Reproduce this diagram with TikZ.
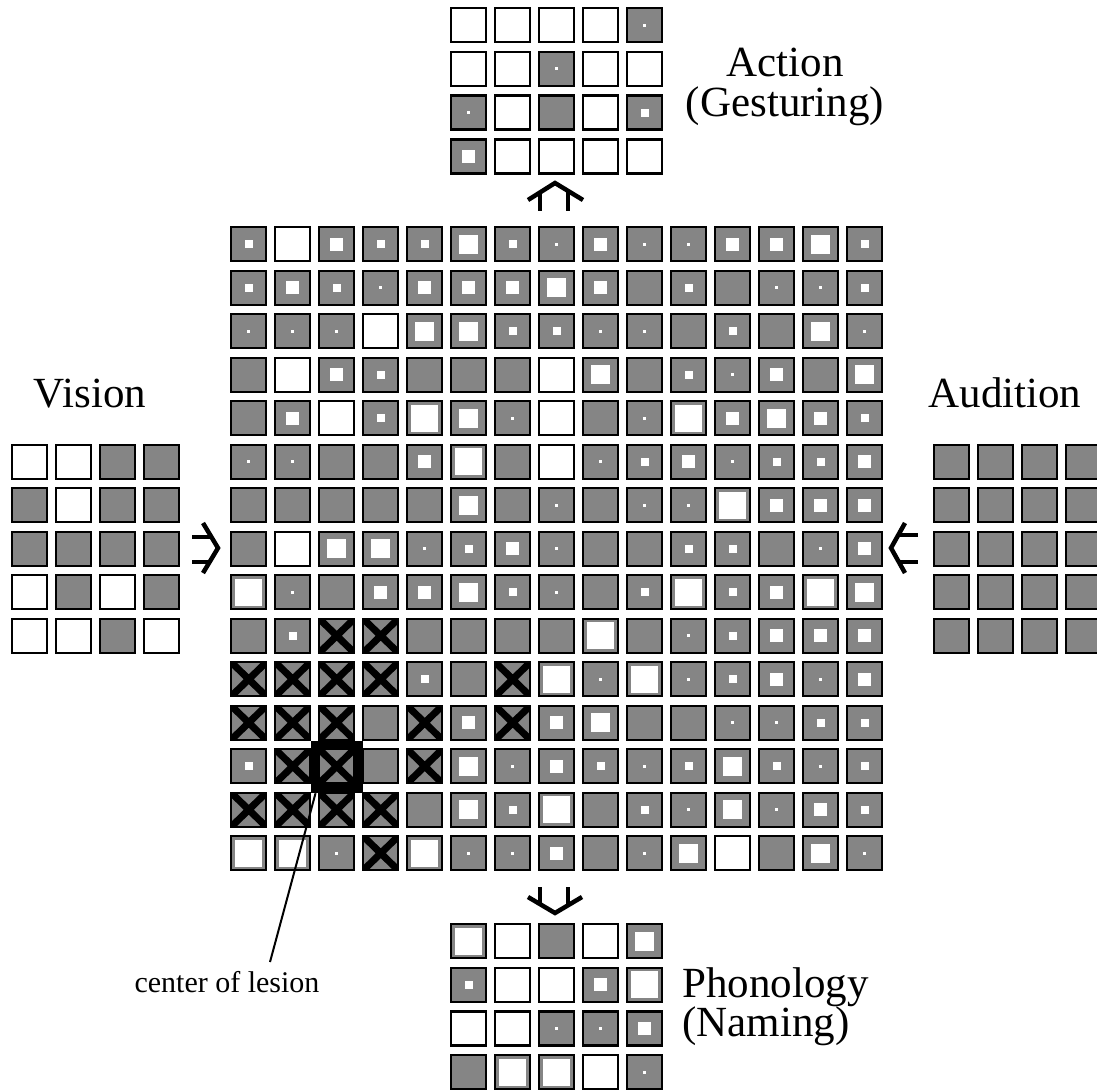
\documentclass[tikz,border=0pt]{standalone}
\usepackage{fontspec}
\setmainfont{Liberation Serif}
\usetikzlibrary{calc}
\definecolor{cellgray}{gray}{0.52}
\tikzset{
  cellbase/.style={draw=black, line width=2.4pt, minimum width=35pt, minimum height=34pt, inner sep=0pt, outer sep=0pt},
  gcell/.style={cellbase, fill=cellgray},
  wcell/.style={cellbase, fill=white},
  xcell/.style={cellbase, fill=cellgray, path picture={\draw[black, line width=7pt] (path picture bounding box.north west) -- (path picture bounding box.south east) (path picture bounding box.north east) -- (path picture bounding box.south west);}},
  blob/.style={fill=white},
  arr/.style={line width=4.5pt, line join=miter},
  lbl/.style={inner sep=0pt, font=\fontsize{43}{38}\selectfont},
  smalllbl/.style={inner sep=0pt, font=\fontsize{30}{34}\selectfont},
}
\newcommand\drawgrid[5]{%
  \foreach \rowdata [count=\r] in {#5} {
    \foreach \v [count=\c] in \rowdata {
      \pgfmathsetmacro\cx{#2+44*(\c-1)}
      \pgfmathsetmacro\cy{#3+#4*(\r-1)}
      \ifnum\v=6\relax
        \node[wcell] (#1-\r-\c) at (\cx,\cy) {};
      \else\ifnum\v=9\relax
        \node[xcell] (#1-\r-\c) at (\cx,\cy) {};
      \else
        \node[gcell] (#1-\r-\c) at (\cx,\cy) {};
        \ifnum\v>0\relax
          \pgfmathsetmacro\bsz{0.5*{0,3,8,13,19,27}[\v]}
          \fill[blob] (\cx-\bsz,\cy-\bsz) rectangle (\cx+\bsz,\cy+\bsz);
        \fi
      \fi\fi
    }
  }
}
\begin{document}
\begin{tikzpicture}[x=1pt,y=-1pt]
\fill[white] (0,0) rectangle (1097,1089);
\clip (0,0) rectangle (1097,1089);

% lesion highlight
\node[fill=black, minimum size=52pt, inner sep=0pt] (lesion) at (336.75,767) {};

% central grid
\drawgrid{m}{248.75}{244.25}{43.5}{
{2,6,3,2,2,4,2,1,3,1,1,3,3,4,2},
{2,3,2,1,3,3,3,4,3,0,2,0,1,1,2},
{1,1,1,6,4,4,2,2,1,1,0,2,0,4,1},
{0,6,3,2,0,0,0,6,4,0,2,1,3,0,4},
{0,3,6,2,5,4,1,6,0,1,5,3,4,3,2},
{1,1,0,0,3,5,0,6,1,2,3,1,2,2,3},
{0,0,0,0,0,4,0,1,0,1,1,5,3,3,3},
{0,6,4,4,1,2,3,1,0,0,2,2,0,1,3},
{5,1,0,3,3,4,2,1,0,2,5,2,3,5,4},
{0,2,9,9,0,0,0,0,5,0,1,2,3,3,3},
{9,9,9,9,2,0,9,5,1,5,1,2,3,1,3},
{9,9,9,0,9,3,9,3,4,0,0,1,1,2,2},
{2,9,9,0,9,4,1,3,2,1,2,4,2,1,2},
{9,9,9,9,0,4,2,5,0,2,1,4,1,3,2},
{5,5,1,9,5,1,1,3,0,1,4,6,0,4,1}}

% action grid
\drawgrid{a}{468.75}{25.25}{43.7}{
{6,6,6,6,1},
{6,6,1,6,6},
{1,6,0,6,2},
{3,6,6,6,6}}

% phonology grid
\drawgrid{p}{468.75}{941.25}{43.6}{
{5,6,0,6,4},
{2,6,6,3,5},
{6,6,1,1,3},
{0,5,5,6,1}}

% vision grid
\drawgrid{v}{29.75}{461.75}{43.5}{
{6,6,0,0},
{0,6,0,0},
{0,0,0,0},
{6,0,6,0},
{6,6,0,6}}

% audition grid
\drawgrid{u}{951.75}{461.75}{43.5}{
{0,0,0,0},
{0,0,0,0},
{0,0,0,0},
{0,0,0,0},
{0,0,0,0}}

% arrows
\coordinate (upL) at (528,200); \coordinate (upT) at (555,183); \coordinate (upR) at (583,200);
\coordinate (upS1) at (540,192.4); \coordinate (upS1b) at (540,211);
\coordinate (upS2) at (568,190.9); \coordinate (upS2b) at (568,211);
\draw[arr] (upL) -- (upT) -- (upR);
\draw[arr] (upS1) -- (upS1b) (upS2) -- (upS2b);

\coordinate (dnL) at (528,897); \coordinate (dnB) at (555,913); \coordinate (dnR) at (582,897);
\coordinate (dnS1) at (540,887); \coordinate (dnS1b) at (540,904.1);
\coordinate (dnS2) at (568,887); \coordinate (dnS2b) at (568,905.3);
\draw[arr] (dnL) -- (dnB) -- (dnR);
\draw[arr] (dnS1) -- (dnS1b) (dnS2) -- (dnS2b);

\coordinate (viT) at (203,523); \coordinate (viA) at (218,548); \coordinate (viB) at (203,573);
\coordinate (viS1) at (192,537); \coordinate (viS1b) at (211.4,537);
\coordinate (viS2) at (192,562); \coordinate (viS2b) at (209.6,562);
\draw[arr] (viT) -- (viA) -- (viB);
\draw[arr] (viS1) -- (viS1b) (viS2) -- (viS2b);

\coordinate (auT) at (905,523); \coordinate (auA) at (891,548); \coordinate (auB) at (905,573);
\coordinate (auS1) at (898.3,535); \coordinate (auS1b) at (918,535);
\coordinate (auS2) at (898.8,562); \coordinate (auS2b) at (918,562);
\draw[arr] (auT) -- (auA) -- (auB);
\draw[arr] (auS1) -- (auS1b) (auS2) -- (auS2b);

% labels
\node[lbl, anchor=base] (action) at (785,77) {Action};
\node[lbl, anchor=base] (gesturing) at (785,117) {(Gesturing)};
\node[lbl, anchor=base] (vision) at (90,407) {Vision};
\node[lbl, anchor=base] (audition) at (1005,407) {Audition};
\node[lbl, anchor=base west] (phon) at (682,997) {Phonology};
\node[lbl, anchor=base west] (naming) at (682,1036) {(Naming)};
\node[smalllbl, anchor=base] (lesionlbl) at (227,992) {center of lesion};

\coordinate (ltail) at (270,962);
\draw[line width=2pt] (ltail) -- ($(lesion.south west)+(5,0)$);
\end{tikzpicture}
\end{document}
